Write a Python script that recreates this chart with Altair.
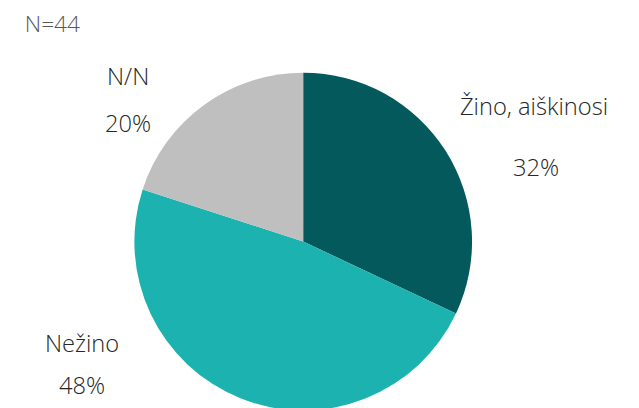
import altair as alt
import pandas as pd

categories = ["Žino, aiškinosi", "Nežino", "N/N"]
values = [32, 48, 20]
pct_labels = ["32%", "48%", "20%"]
colors = ["#03595C", "#1CB2AF", "#BFBFBF"]
n_label = "N=44"

df = pd.DataFrame({
    "cat": categories,
    "val": values,
    "pct": pct_labels,
    "order": list(range(len(categories))),
})

CX, CY, R, LR = 299, 234, 171, 220
FONT = "Open Sans"

pie = alt.Chart(df).mark_arc(outerRadius=R, x=CX, y=CY).encode(
    theta=alt.Theta("val:Q", stack=True),
    order=alt.Order("order:Q"),
    color=alt.Color("cat:N", scale=alt.Scale(domain=categories, range=colors), legend=None),
)

lab = alt.Chart(df).transform_window(
    cum="sum(val)", sort=[alt.SortField("order")]
).transform_joinaggregate(
    total="sum(val)"
).transform_calculate(
    mid="(datum.cum - datum.val / 2) / datum.total"
)

theta_mid = alt.Theta("mid:Q", stack=None, scale=alt.Scale(domain=[0, 1], range=[0, 6.283185307]))

# per-slice label nudges (name dx, dy, pct dx, dy)
nudges = {
    "Žino, aiškinosi": (48, -17, 50, 44),
    "Nežino": (-143, -100, -143, -57),
    "N/N": (-48, 12, -48, 60),
}

layers = [pie]
for c in categories:
    ndx, ndy, pdx, pdy = nudges[c]
    common = dict(radius=LR, x=CX, y=CY, font=FONT, fontSize=24, fontWeight=300,
                  color="#262626", align="center", baseline="middle")
    layers.append(lab.mark_text(dx=ndx, dy=ndy, **common)
                  .encode(theta=theta_mid, text="cat:N")
                  .transform_filter(alt.datum.cat == c))
    layers.append(lab.mark_text(dx=pdx, dy=pdy, **common)
                  .encode(theta=theta_mid, text="pct:N")
                  .transform_filter(alt.datum.cat == c))

ntext = alt.Chart(pd.DataFrame({"t": [n_label]})).mark_text(
    font=FONT, fontSize=23, fontWeight=300, color="#595959", align="left", baseline="middle"
).encode(x=alt.value(17), y=alt.value(15), text="t:N")
layers.append(ntext)

chart = alt.layer(*layers).resolve_scale(theta="independent").properties(
    width=631, height=400, autosize=alt.AutoSizeParams(type="none"), padding=0
).configure_view(stroke=None)

chart.save("out.html", embed_options={"renderer": "svg", "actions": False})
